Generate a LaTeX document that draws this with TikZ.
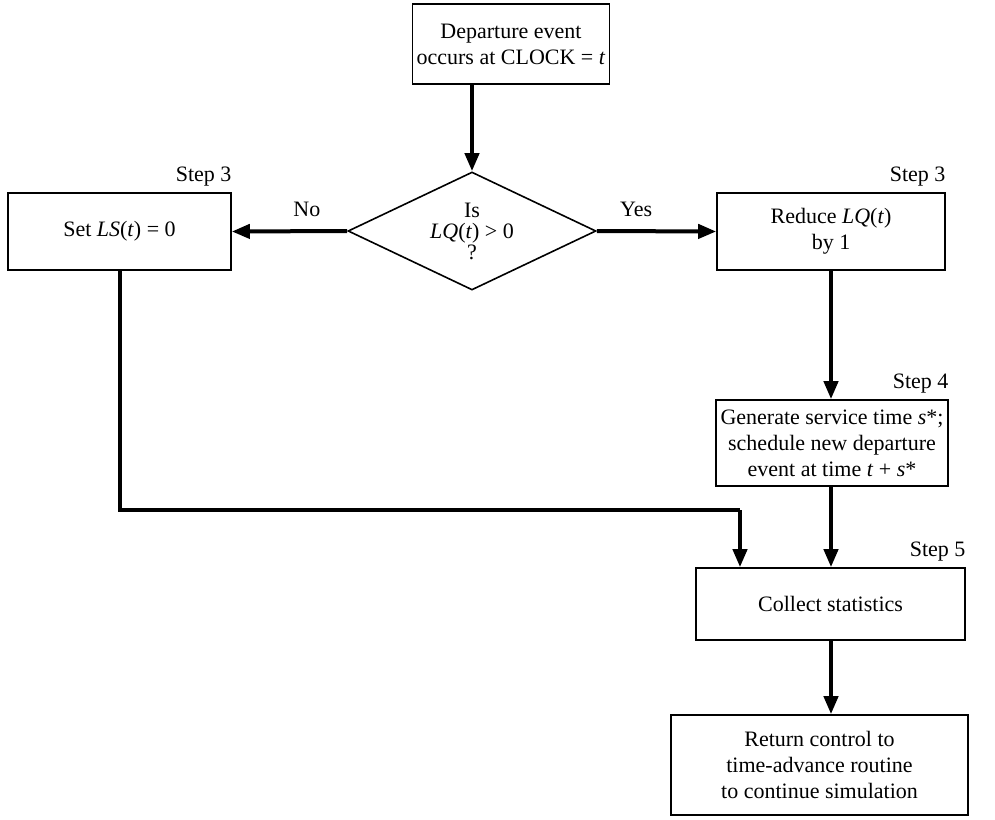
\documentclass[tikz,border=0pt]{standalone}
\usepackage{fontspec}
\setmainfont{Liberation Serif}
\usetikzlibrary{shapes.geometric,arrows.meta}

% italic variables set in the text face
\newcommand{\var}[1]{\textit{#1}}

\tikzset{
  stepbox/.style={draw, line width=0.8pt, align=center, inner sep=2pt,
    font=\fontsize{11}{13}\selectfont},
  decision/.style={draw, diamond, line width=0.8pt, inner sep=0pt},
  flow/.style={line width=2pt, -{Triangle[length=9pt,width=7pt]}},
  flowline/.style={line width=2pt},
  steplabel/.style={font=\fontsize{11}{13}\selectfont, inner sep=0pt, anchor=south east},
  branch/.style={font=\fontsize{11}{13}\selectfont, inner sep=0pt}
}

\begin{document}
\begin{tikzpicture}[x=0.5pt, y=-0.5pt]
  \useasboundingbox (0,0) rectangle (995,819);

  % start event
  \node[stepbox, minimum width=95pt, minimum height=40pt] (start) at (511,44)
    {Departure event\\ occurs at CLOCK = \var{t}};

  % decision
  \node[decision, minimum width=124pt, minimum height=59pt] (dec) at (472,231) {};
  \node[align=center, inner sep=0pt, font=\fontsize{11}{10.5}\selectfont] (dectext) at (dec.center)
    {Is\\ \var{LQ}(\var{t}) > 0\\ ?};

  % step 3 (no branch)
  \node[stepbox, minimum width=111.5pt, minimum height=38.5pt] (setls) at (119.5,231.5)
    {Set \var{LS}(\var{t}) = 0};
  \node[steplabel] (lab3a) at ([yshift=3pt]setls.north east) {Step 3};

  % step 3 (yes branch)
  \node[stepbox, minimum width=114pt, minimum height=38.5pt] (reduce) at (831,231.5)
    {Reduce \var{LQ}(\var{t})\\ by 1};
  \node[steplabel] (lab3b) at ([yshift=3pt]reduce.north east) {Step 3};

  % step 4
  \node[stepbox, minimum width=116pt, minimum height=43pt] (gen) at (832,443)
    {Generate service time \var{s}*;\\ schedule new departure\\ event at time \var{t} + \var{s}*};
  \node[steplabel] (lab4) at ([yshift=3pt]gen.north east) {Step 4};

  % step 5
  \node[stepbox, minimum width=134.5pt, minimum height=36pt] (collect) at (830.5,604)
    {Collect statistics};
  \node[steplabel] (lab5) at ([yshift=3pt]collect.north east) {Step 5};

  % return
  \node[stepbox, minimum width=148.5pt, minimum height=50pt] (ret) at (819.5,765)
    {Return control to\\ time-advance routine\\ to continue simulation};

  % connectors
  \draw[flow] (start.south -| dec.north) -- (dec.north);
  \draw[flow] (dec.west) -- node[branch, pos=0.35, above=6pt] (no) {No} (setls.east);
  \draw[flow] (dec.east) -- node[branch, pos=0.33, above=6pt] (yes) {Yes} (reduce.west);
  \draw[flow] (reduce.south) -- (gen.north -| reduce.south);
  \draw[flow] (gen.south -| reduce.south) -- (collect.north -| reduce.south);
  \coordinate (bend1) at (setls.south |- 0,510);
  \coordinate (bend2) at (740,510);
  \draw[flowline] (setls.south) -- (bend1) -- (bend2);
  \draw[flow] (bend2) -- (collect.north -| bend2);
  \draw[flow] (collect.south -| reduce.south) -- (ret.north -| reduce.south);
\end{tikzpicture}
\end{document}
